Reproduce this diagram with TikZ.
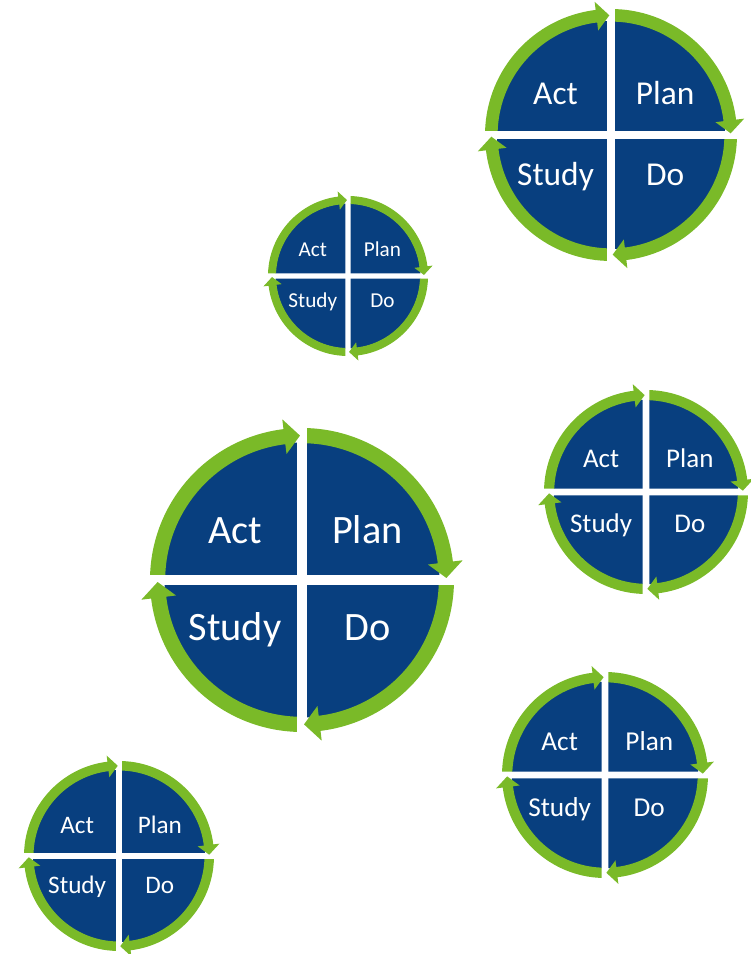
\documentclass[tikz,border=0pt]{standalone}
\usepackage{fontspec}
\setmainfont{Carlito}
\definecolor{pdsablue}{RGB}{8,63,127}
\definecolor{pdsagreen}{RGB}{122,186,40}
\tikzset{
  quad/.style={fill=pdsablue},
  band/.style={fill=pdsagreen},
  lbl/.style={text=white, anchor=base, inner sep=0pt},
}
% #1 name, #2 x, #3 y, #4 outer radius, #5 font size
\newcommand{\pdsacycle}[5]{%
  \begin{scope}[shift={(#2,#3)}, scale=#4]
    \foreach \ang in {0,90,180,270} {
      \fill[quad, rotate=\ang] (0.033,0.033) -- (87.91:0.905)
        arc[start angle=87.91, end angle=2.09, radius=0.905] -- cycle;
    }
    \foreach \ang in {0,90,180,270} {
      \fill[band, rotate=\ang] (88.11:1)
        arc[start angle=88.11, end angle=7, radius=1]
        -- (7:1.065) -- (0.8:0.95) -- (7:0.835) -- (7:0.9)
        arc[start angle=7, end angle=87.9, radius=0.9] -- cycle;
    }
    \node[lbl, font=\fontsize{#5}{#5}\selectfont] (#1-act) at (-0.44,0.24) {Act};
    \node[lbl, font=\fontsize{#5}{#5}\selectfont] (#1-plan) at (0.43,0.24) {Plan};
    \node[lbl, font=\fontsize{#5}{#5}\selectfont] (#1-study) at (-0.44,-0.40) {Study};
    \node[lbl, font=\fontsize{#5}{#5}\selectfont] (#1-do) at (0.43,-0.40) {Do};
  \end{scope}}
\begin{document}
\begin{tikzpicture}[x=1pt, y=1pt]
  \useasboundingbox (0,0) rectangle (751,954);
  \pdsacycle{A}{611}{819}{126}{33.4}
  \pdsacycle{B}{348}{678}{80}{21.2}
  \pdsacycle{C}{302}{374}{152}{40.3}
  \pdsacycle{D}{646}{462}{102}{27}
  \pdsacycle{E}{605}{179}{103}{27.3}
  \pdsacycle{F}{119}{98}{95}{25.2}
\end{tikzpicture}
\end{document}
